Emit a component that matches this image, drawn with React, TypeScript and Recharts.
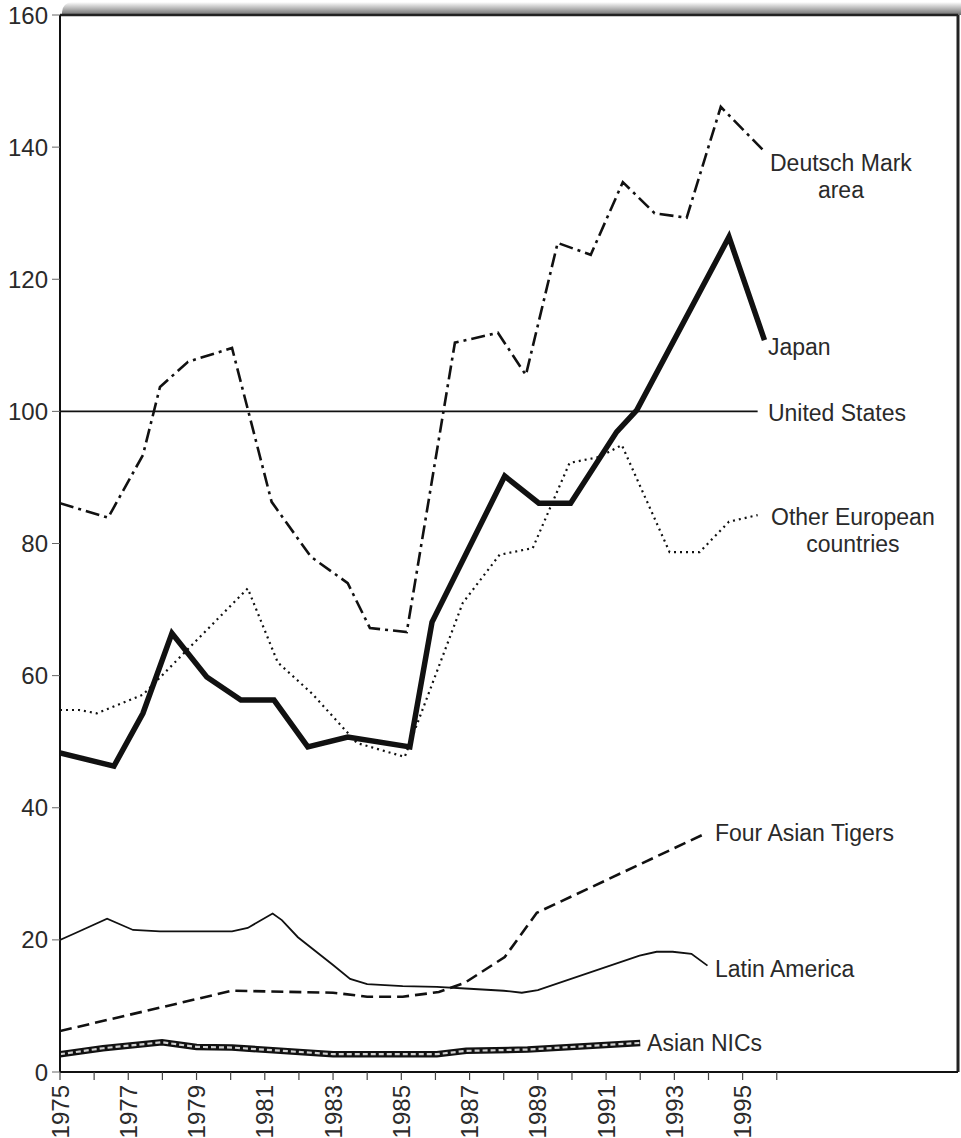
import { LineChart, Line, XAxis, YAxis, ReferenceLine, ReferenceDot } from "recharts";

// [year, index value]
const japan = [
  [1975.0, 48.3], [1976.58, 46.3], [1977.43, 54.3], [1978.28, 66.4], [1979.3, 59.8],
  [1980.3, 56.3], [1981.27, 56.3], [1982.26, 49.2], [1983.43, 50.7], [1985.25, 49.2],
  [1985.9, 68.1], [1988.03, 90.2], [1989.03, 86.1], [1989.96, 86.1], [1991.31, 96.9],
  [1991.9, 100.2], [1994.6, 126.4], [1995.64, 110.8],
];
const deutschMark = [
  [1975.0, 86.1], [1976.41, 83.9], [1977.43, 93.4], [1977.93, 103.7], [1978.75, 107.5],
  [1980.04, 109.6], [1981.2, 86.3], [1982.35, 78.0], [1983.43, 74.0], [1984.08, 67.2],
  [1985.16, 66.6], [1986.57, 110.4], [1987.83, 111.9], [1988.65, 105.5], [1989.58, 125.5],
  [1990.55, 123.7], [1991.49, 134.7], [1992.42, 130.0], [1993.36, 129.3], [1994.36, 146.1],
  [1995.59, 139.6],
];
const otherEurope = [
  [1975.0, 54.8], [1975.55, 54.8], [1976.08, 54.3], [1977.43, 57.1], [1980.5, 73.2],
  [1981.38, 62.0], [1982.38, 57.3], [1983.7, 49.8], [1985.1, 47.7], [1986.8, 71.0],
  [1987.88, 78.3], [1988.85, 79.3], [1989.93, 92.2], [1990.8, 93.1], [1991.46, 94.9],
  [1992.86, 78.7], [1993.74, 78.7], [1994.6, 83.3], [1995.44, 84.3],
];
const unitedStates = [[1975.0, 100], [1995.44, 100]];
const asianTigers = [
  [1975.0, 6.2], [1980.04, 12.3], [1983.0, 12.0], [1984.0, 11.4], [1985.04, 11.4],
  [1986.1, 12.1], [1986.86, 13.5], [1988.03, 17.4], [1988.97, 24.1], [1993.95, 36.2],
];
const latinAmerica = [
  [1975.0, 20.0], [1975.44, 21.0], [1976.38, 23.2], [1977.14, 21.5], [1977.93, 21.3],
  [1980.04, 21.3], [1980.5, 21.8], [1981.23, 24.0], [1981.5, 23.0], [1981.97, 20.4],
  [1983.0, 16.2], [1983.5, 14.1], [1984.0, 13.3], [1985.04, 13.0], [1986.04, 12.9],
  [1987.0, 12.6], [1988.0, 12.3], [1988.53, 12.0], [1989.0, 12.4], [1991.98, 17.6],
  [1992.48, 18.2], [1992.95, 18.2], [1993.5, 17.9], [1993.97, 16.1],
];
const asianNics = [
  [1975.0, 2.7], [1976.26, 3.6], [1977.99, 4.5], [1979.0, 3.8], [1980.04, 3.7],
  [1983.0, 2.7], [1986.04, 2.7], [1986.9, 3.2], [1988.7, 3.4], [1992.0, 4.4],
];

const yearTicks = [
  1975, 1976, 1977, 1978, 1979, 1980, 1981, 1982, 1983, 1984, 1985,
  1986, 1987, 1988, 1989, 1990, 1991, 1992, 1993, 1994, 1995, 1996,
];
const valueTicks = [0, 20, 40, 60, 80, 100, 120, 140, 160];

// series labels: lines of text, anchor year/value, text anchor
const seriesLabels = [
  { lines: ["Deutsch Mark", "area"], year: 1997.88, value: 137.6, anchor: "middle" },
  { lines: ["Japan"], year: 1995.74, value: 109.75, anchor: "start" },
  { lines: ["United States"], year: 1995.74, value: 99.75, anchor: "start" },
  { lines: ["Other European", "countries"], year: 1998.23, value: 84.0, anchor: "middle" },
  { lines: ["Four Asian Tigers"], year: 1994.19, value: 36.2, anchor: "start" },
  { lines: ["Latin America"], year: 1994.19, value: 15.7, anchor: "start" },
  { lines: ["Asian NICs"], year: 1992.2, value: 4.4, anchor: "start" },
];

const toRows = (pts: number[][]) => pts.map(([year, v]) => ({ year, v }));

const FONT = "'Liberation Sans', Arial, sans-serif";
const INK = "#111";
const TEXT = "#2a2a2a";

function YearTick({ x, y, payload }: any) {
  if (payload.value % 2 === 0) return null;
  return (
    <text
      x={x}
      y={y + 3}
      transform={`rotate(-90, ${x}, ${y + 3})`}
      textAnchor="end"
      dy="0.36em"
      fontSize={24}
      fontFamily={FONT}
      fill={TEXT}
    >
      {payload.value}
    </text>
  );
}

function makeLabel(lines: string[], anchor: string) {
  return ({ cx, cy }: any) => (
    <text x={cx} y={cy} textAnchor={anchor} fontSize={23} fontFamily={FONT} fill={TEXT}>
      {lines.map((l, i) => (
        <tspan key={i} x={cx} dy={i === 0 ? "0.36em" : 27}>
          {l}
        </tspan>
      ))}
    </text>
  );
}

export default function App() {
  return (
    <div style={{ position: "absolute", left: 0, top: 0, width: 961, height: 1138, background: "#fff" }}>
      {/* shadow under the top frame line */}
      <div
        style={{
          position: "absolute",
          left: 62,
          top: 2,
          width: 899,
          height: 13,
          borderTopLeftRadius: 10,
          background: "linear-gradient(to bottom, rgba(150,150,150,0), rgba(100,100,100,0.95))",
        }}
      />
      <div style={{ position: "absolute", left: 0, top: 0 }}>
        <LineChart width={961} height={1138} margin={{ top: 15, right: 3, bottom: 0, left: 0 }}>
          <XAxis
            type="number"
            dataKey="year"
            domain={[1975, 2001.31]}
            ticks={yearTicks}
            interval={0}
            allowDataOverflow
            height={66}
            tickSize={8}
            tick={<YearTick />}
            axisLine={{ stroke: INK, strokeWidth: 2 }}
            tickLine={{ stroke: "#444", strokeWidth: 1.2 }}
          />
          <YAxis
            type="number"
            dataKey="v"
            domain={[0, 160]}
            ticks={valueTicks}
            interval={0}
            width={60}
            tickSize={8}
            tickMargin={4}
            tick={{ fontSize: 24, fontFamily: FONT, fill: TEXT }}
            axisLine={{ stroke: INK, strokeWidth: 2 }}
            tickLine={{ stroke: "#666", strokeWidth: 1 }}
          />
          <ReferenceLine y={160} stroke="#222" strokeWidth={2.5} />
          <ReferenceLine x={2001.31} stroke="#222" strokeWidth={3} />

          <Line data={toRows(unitedStates)} dataKey="v" stroke={INK} strokeWidth={1.6} dot={false} isAnimationActive={false} />
          <Line
            data={toRows(deutschMark)}
            dataKey="v"
            stroke={INK}
            strokeWidth={2.6}
            strokeDasharray="14 5 3 5"
            dot={false}
            isAnimationActive={false}
          />
          <Line
            data={toRows(otherEurope)}
            dataKey="v"
            stroke={INK}
            strokeWidth={2.2}
            strokeDasharray="2 4"
            dot={false}
            isAnimationActive={false}
          />
          <Line data={toRows(japan)} dataKey="v" stroke={INK} strokeWidth={5.5} dot={false} isAnimationActive={false} />
          <Line
            data={toRows(asianTigers)}
            dataKey="v"
            stroke={INK}
            strokeWidth={2.6}
            strokeDasharray="12 6"
            dot={false}
            isAnimationActive={false}
          />
          <Line data={toRows(latinAmerica)} dataKey="v" stroke={INK} strokeWidth={1.8} dot={false} isAnimationActive={false} />
          <Line data={toRows(asianNics)} dataKey="v" stroke={INK} strokeWidth={6.5} dot={false} isAnimationActive={false} />
          <Line
            data={toRows(asianNics)}
            dataKey="v"
            stroke="#cfcfcf"
            strokeWidth={2.2}
            strokeDasharray="5 3"
            dot={false}
            isAnimationActive={false}
          />

          {seriesLabels.map((s, i) => (
            <ReferenceDot
              key={i}
              x={s.year}
              y={s.value}
              r={1}
              ifOverflow="visible"
              shape={makeLabel(s.lines, s.anchor)}
            />
          ))}
        </LineChart>
      </div>
    </div>
  );
}
